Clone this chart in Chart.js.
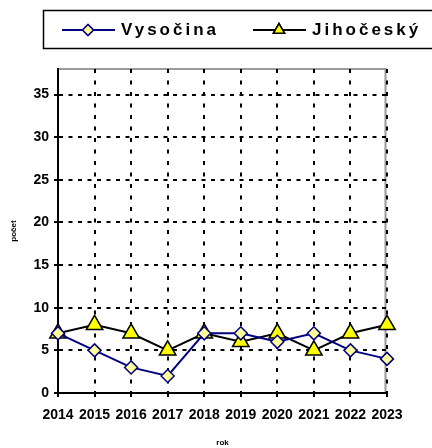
<!DOCTYPE html>
<html>
<head>
<meta charset="utf-8">
<script src="https://cdn.jsdelivr.net/npm/chart.js@4"></script>
<style>
  html, body { margin: 0; padding: 0; background: #fff; }
  #chart { display: block; }
</style>
</head>
<body>
<canvas id="chart" width="432" height="448"></canvas>
<script>
const years = ['2014', '2015', '2016', '2017', '2018', '2019', '2020', '2021', '2022', '2023'];
const vysocina = [7, 5, 3, 2, 7, 7, 6, 7, 5, 4];
const jihocesky = [7, 8, 7, 5, 7, 6, 7, 5, 7, 8];
const yTicks = [0, 5, 10, 15, 20, 25, 30, 35];

const FONT = 'Arial, "Liberation Sans", sans-serif';

// gray frame (top/right) drawn under the grid + custom legend box
const framePlugin = {
  id: 'frame',
  beforeDraw(chart) {
    const a = chart.chartArea, ctx = chart.ctx;
    ctx.save();
    ctx.strokeStyle = '#9a9a9a';
    ctx.lineWidth = 2;
    ctx.beginPath();
    ctx.moveTo(a.left, a.top);
    ctx.lineTo(a.right - 1.5, a.top);
    ctx.lineTo(a.right - 1.5, a.bottom);
    ctx.stroke();
    ctx.restore();
  },
  afterDraw(chart) {
    const ctx = chart.ctx;
    ctx.save();
    ctx.strokeStyle = '#000';
    ctx.lineWidth = 1.5;
    ctx.strokeRect(43.5, 10.5, 390, 38);

    const items = [
      { x: 62, text: 'Vysočina', color: '#000080', style: 'rectRot', fill: '#FFFF99', r: 5.5 },
      { x: 253, text: 'Jihočeský', color: '#000000', style: 'triangle', fill: '#FFFF00', r: 6.5 }
    ];
    const y = 30;
    items.forEach(it => {
      ctx.strokeStyle = it.color;
      ctx.lineWidth = 2;
      ctx.beginPath();
      ctx.moveTo(it.x, y);
      ctx.lineTo(it.x + 53, y);
      ctx.stroke();
      ctx.fillStyle = it.fill;
      ctx.lineWidth = 1.5;
      Chart.helpers.drawPoint(ctx, { pointStyle: it.style, radius: it.r, borderWidth: 1.5, rotation: 0 }, it.x + 26, y);
      ctx.fill();
      ctx.stroke();
      ctx.fillStyle = '#000';
      ctx.font = 'bold 17px ' + FONT;
      ctx.textBaseline = 'middle';
      ctx.letterSpacing = '3px';
      ctx.fillText(it.text, it.x + 59, y);
    });
    ctx.restore();
  }
};

new Chart(document.getElementById('chart'), {
  type: 'line',
  data: {
    labels: years,
    datasets: [
      {
        label: 'Vysočina',
        data: vysocina,
        borderColor: '#000080',
        borderWidth: 2,
        pointStyle: 'rectRot',
        pointRadius: 6.5,
        pointBackgroundColor: '#FFFF99',
        pointBorderColor: '#000080',
        pointBorderWidth: 1.5,
        tension: 0
      },
      {
        label: 'Jihočeský',
        data: jihocesky,
        borderColor: '#000000',
        borderWidth: 2,
        pointStyle: 'triangle',
        pointRadius: 9.5,
        pointBackgroundColor: '#FFFF00',
        pointBorderColor: '#000000',
        pointBorderWidth: 1.5,
        tension: 0
      }
    ]
  },
  options: {
    responsive: false,
    animation: false,
    layout: { padding: { left: 0, top: 69, right: 45, bottom: 0 } },
    plugins: {
      legend: { display: false },
      tooltip: { enabled: false }
    },
    scales: {
      x: {
        offset: false,
        afterFit: s => { s.height = 55; },
        grid: {
          color: '#000',
          lineWidth: 2,
          tickColor: '#000',
          tickLength: 4,
          tickWidth: 2
        },
        border: { color: '#000', width: 2, dash: [4, 7.5] },
        ticks: {
          color: '#000',
          font: { family: FONT, size: 14, weight: 'bold' },
          autoSkip: false,
          maxRotation: 0,
          padding: 10
        },
        title: {
          display: true,
          text: 'rok',
          color: '#000',
          font: { family: FONT, size: 8, weight: 'bold' },
          padding: { top: 0, bottom: 0 }
        }
      },
      y: {
        min: 0,
        max: 38,
        afterFit: s => { s.width = 58; },
        afterBuildTicks: s => { s.ticks = yTicks.map(v => ({ value: v })); },
        grid: {
          color: '#000',
          lineWidth: 2,
          tickColor: '#000',
          tickLength: 4,
          tickWidth: 2
        },
        border: { color: '#000', width: 2, dash: [4, 5.5] },
        ticks: {
          color: '#000',
          font: { family: FONT, size: 14, weight: 'bold' },
          padding: 5
        },
        title: {
          display: true,
          text: 'počet',
          color: '#000',
          font: { family: FONT, size: 8, weight: 'bold' },
          padding: { top: 9, bottom: 0 }
        }
      }
    }
  },
  plugins: [framePlugin]
});
</script>
</body>
</html>
